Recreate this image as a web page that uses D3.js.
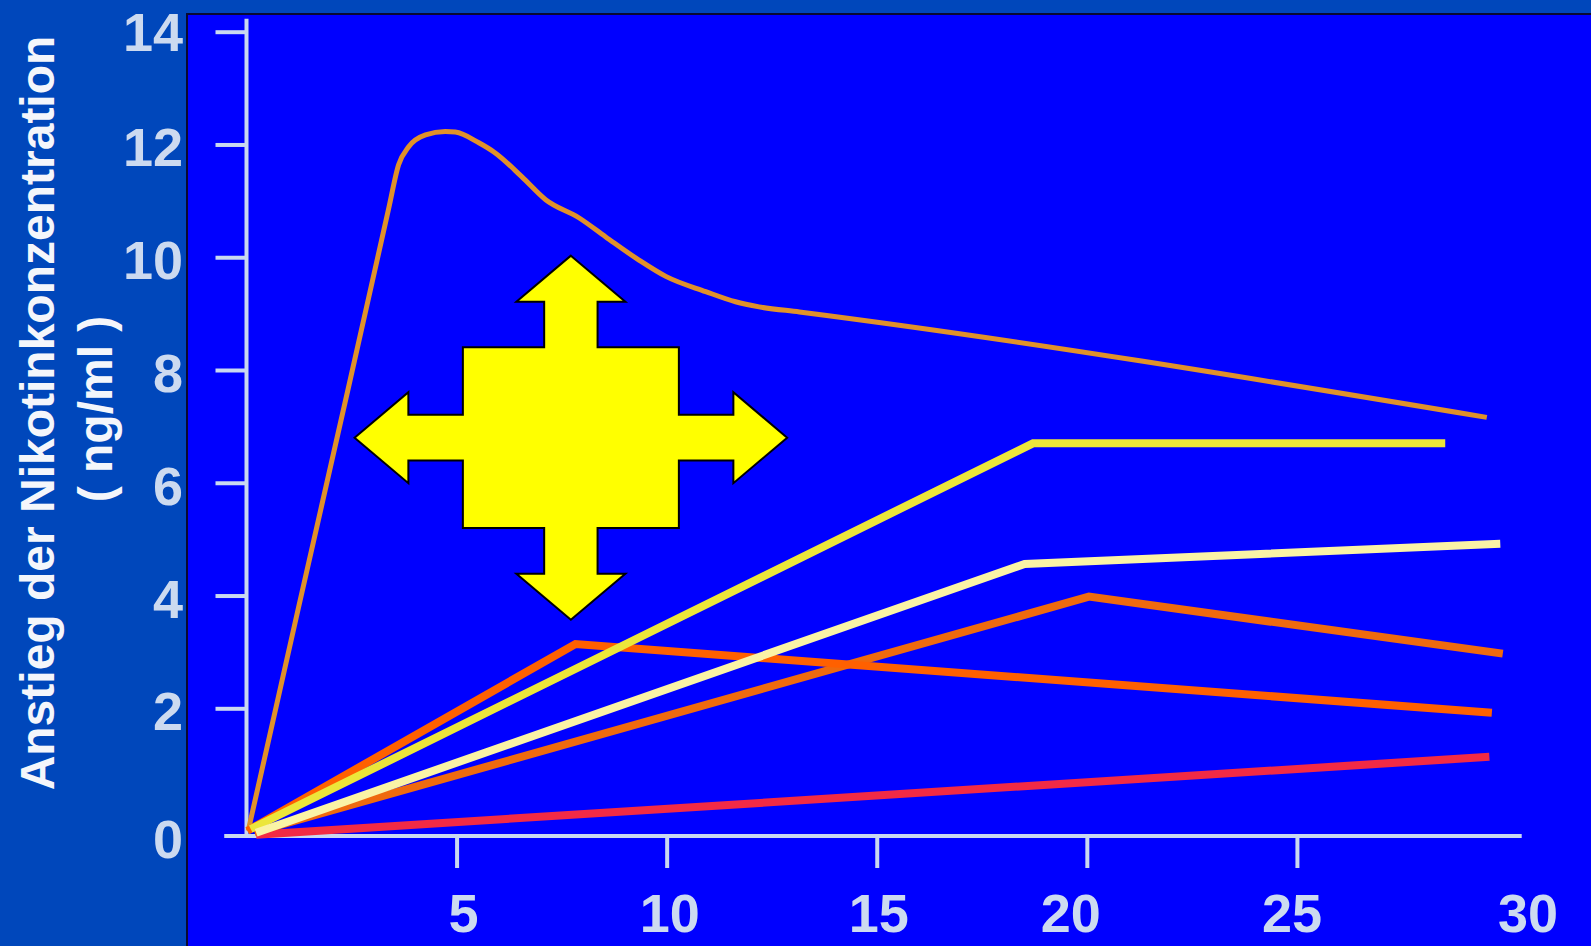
<!DOCTYPE html>
<html>
<head>
<meta charset="utf-8">
<script src="https://cdn.jsdelivr.net/npm/d3@7/dist/d3.min.js"></script>
<style>
  html, body { margin: 0; padding: 0; background: #0047BB; }
  svg { display: block; }
  text { font-family: Arial, "Liberation Sans", sans-serif; font-weight: bold; }
</style>
</head>
<body>
<svg id="chart" width="1591" height="946"></svg>
<script>
// Zeit (min) und Anstieg der Nikotinkonzentration (ng/ml) je Produkt
const curveTime = [0.04, 1.23, 2.43, 3.38, 3.62, 3.86, 4.26, 4.73, 4.97, 5.53, 5.92, 6.55, 7.12, 7.91, 8.55, 9.34, 9.98, 10.93, 11.64, 12.20, 13.16, 29.52];
const curveConc = [0.08, 3.76, 7.70, 10.85, 11.64, 11.96, 12.17, 12.23, 12.22, 12.03, 11.85, 11.43, 11.02, 10.70, 10.36, 9.95, 9.66, 9.39, 9.21, 9.12, 9.03, 7.16];

const redTime = [0.23, 29.58];
const redConc = [0.02, 1.24];

const darkOrangeTime = [0.19, 20.05, 29.90];
const darkOrangeConc = [0.06, 3.98, 2.97];

const orangeRedTime = [0.02, 7.83, 29.64];
const orangeRedConc = [0.08, 3.14, 1.93];

const yellowTime = [0.10, 18.72, 28.53];
const yellowConc = [0.11, 6.70, 6.70];

const paleYellowTime = [0.23, 18.52, 29.84];
const paleYellowConc = [0.05, 4.56, 4.92];

// Achsenbeschriftungen
const yTicks = [2, 4, 6, 8, 10, 12, 14];
const yLabels = [0, 2, 4, 6, 8, 10, 12, 14];
const xTicks = [5, 10, 15, 20, 25];
const xLabels = [5, 10, 15, 20, 25, 30];

const titleLines = ["Anstieg der Nikotinkonzentration", "( ng/ml )"];

// ---------------------------------------------------------------
const svg = d3.select("#chart");
const W = 1591, H = 946;

const axisColor = "#C9D8F0";
const labelColor = "#CCDAF0";

// Hintergrund: äußere Fläche und blaues Diagrammfeld
svg.append("rect").attr("x", 0).attr("y", 0).attr("width", W).attr("height", H).attr("fill", "#0047BB");
svg.append("rect").attr("x", 187).attr("y", 14).attr("width", W).attr("height", H)
  .attr("fill", "#0000FF").attr("stroke", "#0A0A30").attr("stroke-width", 2);

// Skalen
const x = d3.scaleLinear().domain([0, 30]).range([246.5, 1507]);
const y = d3.scaleLinear().domain([0, 2, 14]).range([836, 708.3, 31.7]);

// y-Achse
svg.append("line")
  .attr("x1", x(0)).attr("x2", x(0))
  .attr("y1", y(14.23)).attr("y2", y(0))
  .attr("stroke", axisColor).attr("stroke-width", 4);

const yAxis = d3.axisLeft(y).tickValues(yTicks).tickSize(31).tickSizeOuter(0).tickFormat("");
const gy = svg.append("g").attr("transform", `translate(${x(0)},0)`).call(yAxis);
gy.select(".domain").remove();
gy.selectAll(".tick line").attr("stroke", axisColor).attr("stroke-width", 4);

// leichte Versätze der Zahlen (Layout der Vorlage)
const yLabelNudge = { 14: -3 };
svg.append("g").selectAll("text").data(yLabels).join("text")
  .attr("x", 183)
  .attr("y", d => y(d) + 22 + (yLabelNudge[d] || 0))
  .attr("text-anchor", "end")
  .attr("font-size", 54)
  .attr("fill", labelColor)
  .text(d => d);

// x-Achse
svg.append("line")
  .attr("x1", x(-0.53)).attr("x2", x(30.35))
  .attr("y1", y(0)).attr("y2", y(0))
  .attr("stroke", axisColor).attr("stroke-width", 4);

const xAxis = d3.axisBottom(x).tickValues(xTicks).tickSize(32).tickSizeOuter(0).tickFormat("");
const gx = svg.append("g").attr("transform", `translate(0,${y(0)})`).call(xAxis);
gx.select(".domain").remove();
gx.selectAll(".tick line").attr("stroke", axisColor).attr("stroke-width", 4);

const xLabelNudge = { 5: 7, 10: 3, 15: 2, 20: -16, 25: -5, 30: 21 };
svg.append("g").selectAll("text").data(xLabels).join("text")
  .attr("x", d => x(d) + (xLabelNudge[d] || 0))
  .attr("y", 932)
  .attr("text-anchor", "middle")
  .attr("font-size", 54)
  .attr("fill", labelColor)
  .text(d => d);

// Achsentitel
svg.append("text")
  .attr("transform", "translate(54,413) rotate(-90)")
  .attr("text-anchor", "middle")
  .attr("font-size", 48)
  .attr("fill", "#F4F6FB")
  .text(titleLines[0]);
svg.append("text")
  .attr("transform", "translate(112,409) rotate(-90)")
  .attr("text-anchor", "middle")
  .attr("font-size", 48)
  .attr("fill", "#F4F6FB")
  .text(titleLines[1]);

// Kurven
const series = [
  { t: curveTime, c: curveConc, color: "#E0912A", w: 5, curve: d3.curveMonotoneX },
  { t: redTime, c: redConc, color: "#F22A45", w: 8, curve: d3.curveLinear },
  { t: darkOrangeTime, c: darkOrangeConc, color: "#EF6A0E", w: 8, curve: d3.curveLinear },
  { t: orangeRedTime, c: orangeRedConc, color: "#FF6000", w: 8, curve: d3.curveLinear },
  { t: yellowTime, c: yellowConc, color: "#ECE63A", w: 8, curve: d3.curveLinear },
  { t: paleYellowTime, c: paleYellowConc, color: "#FAF3A6", w: 8, curve: d3.curveLinear }
];

series.forEach(s => {
  const pts = s.t.map((t, i) => [t, s.c[i]]);
  const line = d3.line().x(d => x(d[0])).y(d => y(d[1])).curve(s.curve);
  svg.append("path")
    .attr("d", line(pts))
    .attr("fill", "none")
    .attr("stroke", s.color)
    .attr("stroke-width", s.w)
    .attr("stroke-linejoin", "miter")
    .attr("stroke-linecap", "butt");
});

// Vierfachpfeil (Streuung in alle Richtungen)
const arrowCenter = [7.72, 6.8];
const cx = x(arrowCenter[0]), cy = y(arrowCenter[1]);
const tipV = 182, headV = 136, headHalfW = 54.5, shaftHalfW = 26.7;
const tipH = 216.3, headH = 162.5, headHalfH = 45.5, shaftHalfH = 22.8;
const boxHalfW = 108, boxHalfH = 90.3;
const arrowPts = [
  [0, -tipV], [headHalfW, -headV], [shaftHalfW, -headV], [shaftHalfW, -boxHalfH],
  [boxHalfW, -boxHalfH], [boxHalfW, -shaftHalfH], [headH, -shaftHalfH], [headH, -headHalfH],
  [tipH, 0], [headH, headHalfH], [headH, shaftHalfH], [boxHalfW, shaftHalfH],
  [boxHalfW, boxHalfH], [shaftHalfW, boxHalfH], [shaftHalfW, headV], [headHalfW, headV],
  [0, tipV], [-headHalfW, headV], [-shaftHalfW, headV], [-shaftHalfW, boxHalfH],
  [-boxHalfW, boxHalfH], [-boxHalfW, shaftHalfH], [-headH, shaftHalfH], [-headH, headHalfH],
  [-tipH, 0], [-headH, -headHalfH], [-headH, -shaftHalfH], [-boxHalfW, -shaftHalfH],
  [-boxHalfW, -boxHalfH], [-shaftHalfW, -boxHalfH], [-shaftHalfW, -headV], [-headHalfW, -headV]
];
svg.append("polygon")
  .attr("points", arrowPts.map(p => [cx + p[0], cy + p[1]].join(",")).join(" "))
  .attr("fill", "#FFFF00")
  .attr("stroke", "#000000")
  .attr("stroke-width", 2)
  .attr("stroke-linejoin", "miter");
</script>
</body>
</html>
